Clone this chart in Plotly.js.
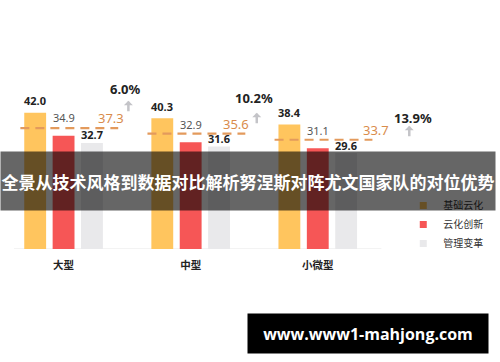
<!DOCTYPE html>
<html>
<head>
<meta charset="utf-8">
<script src="https://cdn.plot.ly/plotly-3.0.1.min.js"></script>
<style>
html,body{margin:0;padding:0;background:#fff;}
#chart{width:500px;height:362px;}
</style>
</head>
<body>
<div id="chart"></div>
<script>
// ---- data ----
const categories = ['大型', '中型', '小微型'];
const seriesNames = ['基础云化', '云化创新', '管理变革'];
const basicCloud = [42.0, 40.3, 38.4];
const cloudInnovation = [34.9, 32.9, 31.1];
const mgmtChange = [32.7, 31.6, 29.6];
const averages = [37.3, 35.6, 33.7];
const growthLabels = ['6.0%', '10.2%', '13.9%'];
const titleText = '全景从技术风格到数据对比解析努涅斯对阵尤文国家队的对位优势';
const watermark = 'www.www1-mahjong.com';

// ---- styles ----
const colors = ['#ffc55e', '#f65656', '#e9e9eb'];
const FONT = 'Noto Sans, Noto Sans CJK SC, sans-serif';
const idx = categories.map((c, i) => i);
const seriesValues = [basicCloud, cloudInnovation, mgmtChange];

const traces = [];
seriesValues.forEach((vals, s) => {
  traces.push({
    type: 'bar', x: idx, y: vals, name: seriesNames[s],
    marker: {color: colors[s]}, showlegend: false, hoverinfo: 'y'
  });
});
// legend entries (small square markers)
seriesNames.forEach((n, s) => {
  traces.push({
    type: 'scatter', mode: 'markers', x: [null], y: [null], name: n,
    marker: {symbol: 'square', size: 7, color: colors[s]}, showlegend: true
  });
});
// average dashed lines
const lx = [], ly = [];
averages.forEach((v, i) => { lx.push(i - 0.34, i + 0.43, null); ly.push(v, v, null); });
traces.push({
  type: 'scatter', mode: 'lines', x: lx, y: ly, showlegend: false, hoverinfo: 'skip',
  line: {color: '#e39a5c', width: 2.2, dash: '9px,6px'}
});

const annotations = [];
// bar value labels
const labelShift = [12, 18, 8];
const labelStyle = [
  {color: '#222', weight: 'bold'},
  {color: '#555', weight: 'normal'},
  {color: '#222', weight: 'bold'}
];
const pitch = 28.7;
seriesValues.forEach((vals, s) => {
  vals.forEach((v, i) => {
    annotations.push({
      x: i, y: v, xref: 'x', yref: 'y', text: v.toFixed(1), showarrow: false,
      xshift: (s - 1) * pitch, yshift: labelShift[s], yanchor: 'middle',
      font: {family: FONT, size: 11, color: labelStyle[s].color, weight: labelStyle[s].weight}
    });
  });
});
// average labels
const avgLabelDx = [0.37, 0.36, 0.46];
averages.forEach((v, i) => {
  annotations.push({
    x: i + avgLabelDx[i], y: v, xref: 'x', yref: 'y', text: v.toFixed(1), showarrow: false,
    yshift: 10, yanchor: 'middle',
    font: {family: FONT, size: 13, color: '#d98c4c'}
  });
});
// growth arrows and labels
const arrowX = [0.51, 1.52, 2.72];
const arrowY = [45.7, 42.0, 38.0];
const growthX = [0.49, 1.50, 2.75];
const growthY = [49.4, 46.6, 40.4];
growthLabels.forEach((g, i) => {
  annotations.push({
    x: arrowX[i], y: arrowY[i], xref: 'x', yref: 'y', text: '', showarrow: true,
    ax: 0, ay: 12, arrowhead: 1, arrowsize: 0.6, arrowwidth: 2.5, arrowcolor: '#c4c4c8'
  });
  annotations.push({
    x: growthX[i], y: growthY[i], xref: 'x', yref: 'y', text: g, showarrow: false,
    yanchor: 'middle',
    font: {family: FONT, size: 13, color: '#222', weight: 'bold'}
  });
});
// banner overlay
annotations.push({
  xref: 'paper', yref: 'paper', x: 0.498, y: 0.36, xanchor: 'center', yanchor: 'middle',
  text: titleText, showarrow: false, width: 494, height: 58, borderpad: 0,
  bgcolor: 'rgba(0,0,0,0.6)',
  font: {family: 'Noto Sans CJK SC, sans-serif', size: 17, color: '#fff', weight: 'bold'}
});
// watermark
annotations.push({
  xref: 'paper', yref: 'paper', x: 0.755, y: -0.447, xanchor: 'center', yanchor: 'middle',
  text: watermark, showarrow: false, width: 240, height: 39, borderpad: 0,
  bgcolor: '#000',
  font: {family: 'Open Sans, sans-serif', size: 16, color: '#fff', weight: 'bold'}
});

const layout = {
  width: 500, height: 362,
  margin: {l: 14, r: 12, t: 60, b: 113},
  paper_bgcolor: '#fff', plot_bgcolor: '#fff',
  barmode: 'group', bargap: 0.33, bargroupgap: 0.23,
  showlegend: true,
  legend: {
    x: 0.83, xanchor: 'left', y: 0.13, yanchor: 'middle',
    font: {family: FONT, size: 10, color: '#333'}, bgcolor: 'rgba(0,0,0,0)'
  },
  xaxis: {
    type: 'linear', range: [-0.39, 3.3], tickvals: idx, ticktext: categories,
    showgrid: false, zeroline: false, showline: false, ticks: '',
    ticklabelstandoff: 8,
    tickfont: {family: FONT, size: 10.5, color: '#222', weight: 'bold'}
  },
  yaxis: {
    range: [0, 58.3], visible: false, showgrid: false, zeroline: false
  },
  shapes: [{
    type: 'line', xref: 'x', yref: 'y', x0: -0.39, x1: 2.5, y0: 0, y1: 0,
    line: {color: '#e6e6e6', width: 1}, layer: 'below'
  }],
  annotations: annotations
};

Plotly.newPlot('chart', traces, layout, {displayModeBar: false, staticPlot: true});
</script>
</body>
</html>
